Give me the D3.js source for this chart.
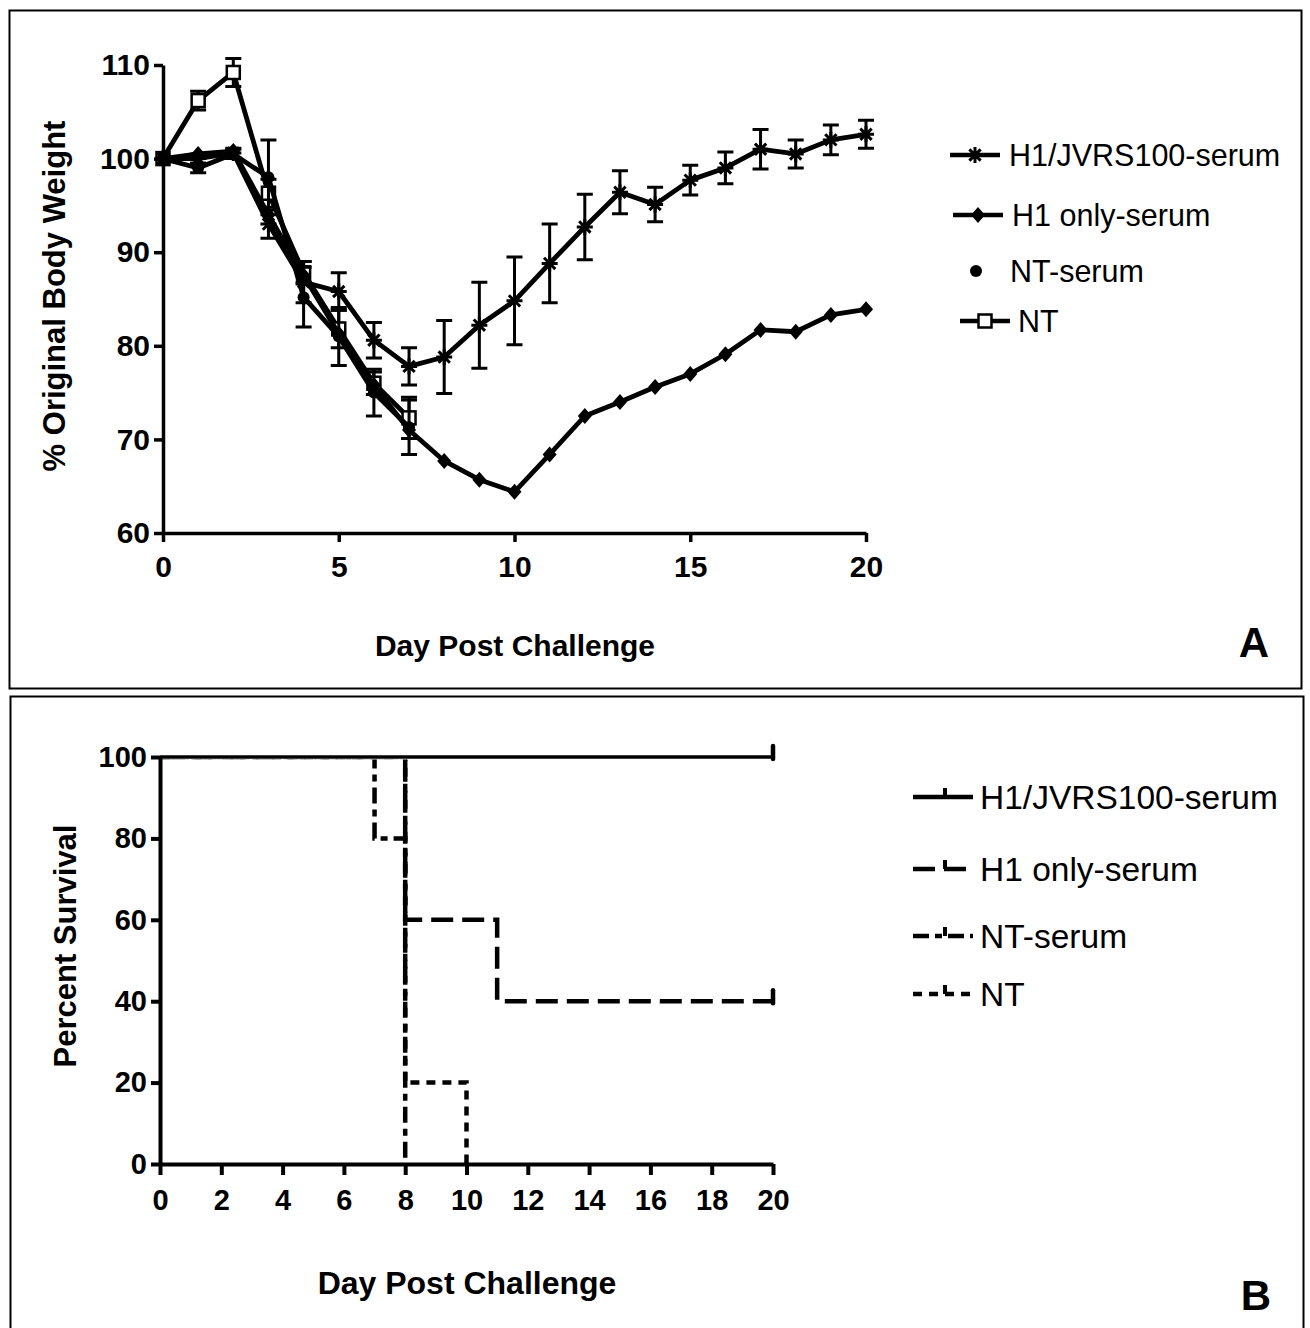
<!DOCTYPE html>
<html>
<head>
<meta charset="utf-8">
<script src="https://cdn.jsdelivr.net/npm/d3@7"></script>
<style>
body { margin: 0; background: #fff; }
text { font-family: "Liberation Sans", Arial, sans-serif; fill: #000; }
.tick text { font-weight: bold; }
.domain, .tick line { stroke: #000; }
</style>
</head>
<body>
<div id="chart"></div>
<script>

// ---- panel A: body weight ----
var days = [0, 1, 2, 3, 4, 5, 6, 7, 8, 9, 10, 11, 12, 13, 14, 15, 16, 17, 18, 19, 20];
var jvrsWeight = [100, 100, 100.6, 93.0, 86.8, 85.8, 80.6, 77.8, 78.8, 82.2, 84.8, 88.8, 92.7, 96.4, 95.1, 97.7, 99.0, 101.0, 100.5, 102.0, 102.6];
var jvrsErr = [0, 0.5, 0.5, 1.5, 2.2, 2.0, 1.9, 2.0, 3.9, 4.6, 4.7, 4.2, 3.5, 2.3, 1.85, 1.6, 1.7, 2.1, 1.5, 1.6, 1.5];
var h1Weight = [100, 100.5, 100.8, 94.0, 87.5, 81.3, 75.8, 71.0, 67.7, 65.7, 64.4, 68.4, 72.5, 74.0, 75.6, 77.0, 79.1, 81.7, 81.5, 83.3, 83.9];
var ntSerumWeight = [100, 99.0, 100.5, 98.0, 85.2, 81.0, 75.0, 71.3];
var ntSerumErr = [0, 0.5, 0.5, 4.0, 3.2, 3.1, 2.5, 2.9];
var ntWeight = [100, 106.2, 109.2, 96.3, 87.8, 81.8, 76.0, 72.3];
var ntErr = [0, 1.0, 1.5, 1.5, 1.2, 2.0, 1.2, 2.2];
var weightTicks = [60, 70, 80, 90, 100, 110];
var dayTicksA = [0, 5, 10, 15, 20];

// ---- panel B: survival ----
var survJvrsDays = [0, 20], survJvrs = [100, 100];
var survH1Days = [0, 8, 11, 20], survH1 = [100, 60, 40, 40];
var survNtSerumDays = [0, 7, 8], survNtSerum = [100, 80, 0];
var survNtDays = [0, 8, 10], survNt = [100, 20, 0];
var survTicks = [0, 20, 40, 60, 80, 100];
var dayTicksB = [0, 2, 4, 6, 8, 10, 12, 14, 16, 18, 20];

var svg = d3.select('#chart').append('svg')
  .attr('width', 1310)
  .attr('height', 1328);

// frames
svg.append('rect').attr('x', 9.5).attr('y', 10.5).attr('width', 1292).attr('height', 678)
  .attr('fill', 'none').attr('stroke', '#000').attr('stroke-width', 2);
svg.append('rect').attr('x', 10.5).attr('y', 696.5).attr('width', 1293).attr('height', 650)
  .attr('fill', 'none').attr('stroke', '#000').attr('stroke-width', 2);

// marker shapes
function drawMarker(g, type, cx, cy) {
  if (type == 'star') {
    var r = 8, s = r * Math.SQRT1_2;
    g.append('path')
      .attr('d', 'M' + (cx - r) + ',' + cy + 'h' + (2 * r) +
        'M' + cx + ',' + (cy - r) + 'v' + (2 * r) +
        'M' + (cx - s) + ',' + (cy - s) + 'l' + (2 * s) + ',' + (2 * s) +
        'M' + (cx - s) + ',' + (cy + s) + 'l' + (2 * s) + ',' + (-2 * s))
      .attr('stroke', '#000').attr('stroke-width', 3);
  } else if (type == 'diamond') {
    g.append('path')
      .attr('d', 'M' + cx + ',' + (cy - 8) + 'L' + (cx + 7) + ',' + cy + 'L' + cx + ',' + (cy + 8) + 'L' + (cx - 7) + ',' + cy + 'Z')
      .attr('fill', '#000');
  } else if (type == 'circle') {
    g.append('circle').attr('cx', cx).attr('cy', cy).attr('r', 6).attr('fill', '#000');
  } else if (type == 'square') {
    g.append('rect').attr('x', cx - 6.5).attr('y', cy - 6.5).attr('width', 13).attr('height', 13)
      .attr('fill', '#fff').attr('stroke', '#000').attr('stroke-width', 2.5);
  }
}

// ================= panel A =================
var xA = d3.scaleLinear().domain([0, 20]).range([163, 866]);
var yA = d3.scaleLinear().domain([60, 110]).range([533, 65]);

var seriesA = [
  {name: 'H1/JVRS100-serum', values: jvrsWeight, errors: jvrsErr, symbol: 'star'},
  {name: 'H1 only-serum', values: h1Weight, errors: null, symbol: 'diamond'},
  {name: 'NT-serum', values: ntSerumWeight, errors: ntSerumErr, symbol: 'circle'},
  {name: 'NT', values: ntWeight, errors: ntErr, symbol: 'square'}
];

var gA = svg.append('g');

var axA = gA.append('g').attr('transform', 'translate(0,533)')
  .call(d3.axisBottom(xA).tickValues(dayTicksA).tickSize(9).tickSizeOuter(0).tickPadding(14));
var ayA = gA.append('g').attr('transform', 'translate(163,0)')
  .call(d3.axisLeft(yA).tickValues(weightTicks).tickSize(9).tickSizeOuter(0).tickPadding(4));
[axA, ayA].forEach(function(a) {
  a.select('.domain').attr('stroke-width', 3.5);
  a.selectAll('.tick line').attr('stroke-width', 3.5);
  a.selectAll('.tick text').style('font-size', '30px').attr('fill', '#000');
});

var lineA = d3.line()
  .x(function(d, i) { return xA(days[i]); })
  .y(function(d) { return yA(d); });

var order = [3, 2, 1, 0];
order.forEach(function(k) {
  var s = seriesA[k];
  var g = gA.append('g');
  g.append('path').datum(s.values)
    .attr('d', lineA)
    .attr('fill', 'none').attr('stroke', '#000').attr('stroke-width', 4.8)
    .attr('stroke-linejoin', 'round');
  if (s.errors) {
    s.values.forEach(function(v, i) {
      var e = s.errors[i];
      if (!e) return;
      var x = xA(days[i]);
      g.append('path')
        .attr('d', 'M' + x + ',' + yA(v + e) + 'V' + yA(v - e) +
          'M' + (x - 8) + ',' + yA(v + e) + 'h16' +
          'M' + (x - 8) + ',' + yA(v - e) + 'h16')
        .attr('stroke', '#000').attr('stroke-width', 3).attr('fill', 'none');
    });
  }
  s.values.forEach(function(v, i) {
    drawMarker(g, s.symbol, xA(days[i]), yA(v));
  });
});

gA.append('text')
  .attr('transform', 'translate(65,296)rotate(-90)')
  .attr('text-anchor', 'middle')
  .style('font-size', '31px').style('font-weight', 'bold')
  .text('% Original Body Weight');

gA.append('text')
  .attr('x', 515).attr('y', 656)
  .attr('text-anchor', 'middle')
  .style('font-size', '30px').style('font-weight', 'bold')
  .text('Day Post Challenge');

gA.append('text')
  .attr('x', 1254).attr('y', 657)
  .attr('text-anchor', 'middle')
  .style('font-size', '42px').style('font-weight', 'bold')
  .text('A');

// legend A
var legA = [
  {y: 155, x1: 950, x2: 1000, tx: 1009},
  {y: 215, x1: 953, x2: 1003, tx: 1012},
  {y: 271, x1: null, x2: null, tx: 1010, mx: 976},
  {y: 321, x1: 960, x2: 1010, tx: 1018}
];
legA.forEach(function(l, k) {
  var s = seriesA[k];
  var g = gA.append('g');
  var mx = l.mx;
  if (l.x1 != null) {
    g.append('line').attr('x1', l.x1).attr('x2', l.x2).attr('y1', l.y).attr('y2', l.y)
      .attr('stroke', '#000').attr('stroke-width', 4.5);
    mx = (l.x1 + l.x2) / 2;
  }
  drawMarker(g, s.symbol, mx, l.y);
  g.append('text').attr('x', l.tx).attr('y', l.y + 11)
    .style('font-size', '30.5px').text(s.name);
});

// ================= panel B =================
var xB = d3.scaleLinear().domain([0, 20]).range([160, 773]);
var yB = d3.scaleLinear().domain([0, 100]).range([1164, 757]);

var seriesB = [
  {name: 'H1/JVRS100-serum', t: survJvrsDays, v: survJvrs, dash: null, width: 3.5},
  {name: 'H1 only-serum', t: survH1Days, v: survH1, dash: '22,9', width: 4.5},
  {name: 'NT-serum', t: survNtSerumDays, v: survNtSerum, dash: '16,6,7,6', width: 4.5},
  {name: 'NT', t: survNtDays, v: survNt, dash: '9,7', width: 4.5}
];

var gB = svg.append('g');

// the dashed curves hide under the solid 100% line
svg.append('defs').append('clipPath').attr('id', 'below100')
  .append('rect').attr('x', 0).attr('y', yB(100) + 2.4).attr('width', 1310).attr('height', 600);

var axB = gB.append('g').attr('transform', 'translate(0,1164)')
  .call(d3.axisBottom(xB).tickValues(dayTicksB).tickSize(11).tickSizeOuter(0).tickPadding(14));
var ayB = gB.append('g').attr('transform', 'translate(160,0)')
  .call(d3.axisLeft(yB).tickValues(survTicks).tickSize(9).tickSizeOuter(0).tickPadding(4));
[axB, ayB].forEach(function(a) {
  a.select('.domain').attr('stroke-width', 4);
  a.selectAll('.tick line').attr('stroke-width', 4);
  a.selectAll('.tick text').style('font-size', '29px').attr('fill', '#000');
});

var lineB = d3.line()
  .curve(d3.curveStepAfter)
  .x(function(d) { return xB(d[0]); })
  .y(function(d) { return yB(d[1]); });

[3, 2, 1, 0].forEach(function(k) {
  var s = seriesB[k];
  var pts = s.t.map(function(t, i) { return [t, s.v[i]]; });
  var p = gB.append('path').datum(pts)
    .attr('d', lineB)
    .attr('fill', 'none').attr('stroke', '#000').attr('stroke-width', s.width)
    .attr('stroke-dasharray', s.dash);
  if (s.dash) p.attr('clip-path', 'url(#below100)');
  var last = pts[pts.length - 1];
  if (last[1] > 0) {
    // censored mark at the end
    gB.append('line')
      .attr('x1', xB(last[0])).attr('x2', xB(last[0]))
      .attr('y1', yB(last[1]) + 2).attr('y2', yB(last[1]) - 11)
      .attr('stroke', '#000').attr('stroke-width', 4.5).attr('stroke-linecap', 'round');
  }
});

gB.append('text')
  .attr('transform', 'translate(76,946)rotate(-90)')
  .attr('text-anchor', 'middle')
  .style('font-size', '31px').style('font-weight', 'bold')
  .text('Percent Survival');

gB.append('text')
  .attr('x', 467).attr('y', 1294)
  .attr('text-anchor', 'middle')
  .style('font-size', '32px').style('font-weight', 'bold')
  .text('Day Post Challenge');

gB.append('text')
  .attr('x', 1256).attr('y', 1310)
  .attr('text-anchor', 'middle')
  .style('font-size', '42px').style('font-weight', 'bold')
  .text('B');

// legend B
var legBy = [797, 869, 936, 994];
seriesB.forEach(function(s, k) {
  var y = legBy[k];
  gB.append('line').attr('x1', 913).attr('x2', 973).attr('y1', y).attr('y2', y)
    .attr('stroke', '#000').attr('stroke-width', 4.5)
    .attr('stroke-dasharray', s.dash);
  gB.append('line').attr('x1', 945).attr('x2', 945).attr('y1', y).attr('y2', y - 9)
    .attr('stroke', '#000').attr('stroke-width', 4);
  gB.append('text').attr('x', 980).attr('y', y + 12)
    .style('font-size', '33.5px').text(s.name);
});

</script>
</body>
</html>
